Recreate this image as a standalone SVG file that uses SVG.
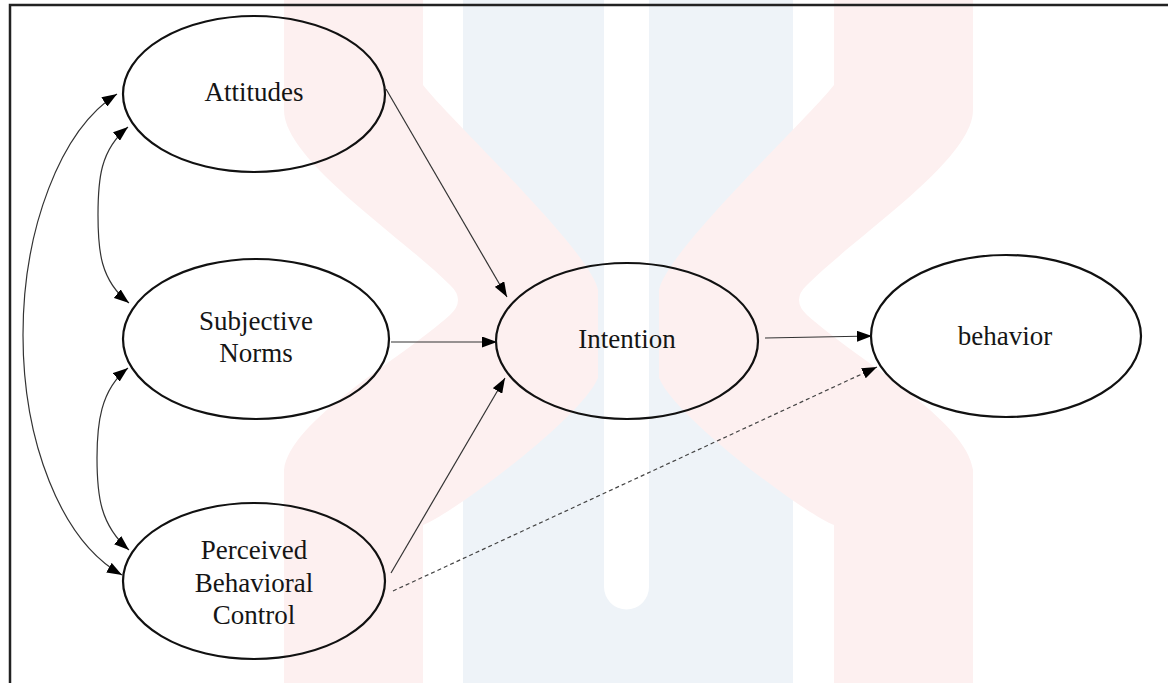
<svg xmlns="http://www.w3.org/2000/svg" width="1168" height="683" viewBox="0 0 1168 683">
  <style>
    .node { fill: none; stroke: #111; stroke-width: 2.2; }
    .label { font-family: "Liberation Serif", "Times New Roman", serif; font-size: 27px; fill: #151515; text-anchor: middle; }
    .edge { fill: none; stroke: #333; stroke-width: 1.2; }
    .dashed { stroke-dasharray: 4 3; stroke: #444; }
    .wm-pink { fill: #fdf0f0; }
    .wm-blue { fill: #eef3f8; }
  </style>
  <defs>
    <marker id="arrow" viewBox="0 0 15 11" refX="15" refY="5.5" markerWidth="15" markerHeight="11" markerUnits="userSpaceOnUse" orient="auto-start-reverse">
      <path d="M0,0 L15,5.5 L0,11 Z" fill="#000"/>
    </marker>
    <path id="pinkband" d="M284,0 V110 C284,160 400,235 450,285 Q466,300 450,315 C400,360 290,420 284,470 V683 H423 V525 C450,515 580,420 598,378 V290 C590,250 450,120 423,85 V0 Z"/>
  </defs>

  <rect x="0" y="0" width="1168" height="683" fill="#ffffff"/>

  <g id="watermark">
    <rect class="wm-blue" x="463" y="0" width="330" height="683"/>
    <path d="M604,0 H649 V587 A22.5,22.5 0 0 1 604,587 Z" fill="#ffffff"/>
    <use href="#pinkband" class="wm-pink"/>
    <use href="#pinkband" class="wm-pink" transform="translate(1257,0) scale(-1,1)"/>
  </g>

  <g id="frame">
    <path d="M10,683 V5 H1168" fill="none" stroke="#222" stroke-width="2.5"/>
  </g>

  <g id="connectors">
    <line class="edge" x1="386" y1="89" x2="507" y2="297" marker-end="url(#arrow)"/>
    <line class="edge" x1="391" y1="342" x2="497" y2="342" marker-end="url(#arrow)"/>
    <line class="edge" x1="391" y1="573" x2="505" y2="378" marker-end="url(#arrow)"/>
    <line class="edge" x1="765" y1="338" x2="872" y2="336" marker-end="url(#arrow)"/>
    <line class="edge dashed" x1="393" y1="591" x2="877" y2="367" marker-end="url(#arrow)"/>
    <path class="edge" d="M117,94 C60,130 23,230 23,335 C23,440 60,540 122,575" marker-start="url(#arrow)" marker-end="url(#arrow)"/>
    <path class="edge" d="M128,127 C100,150 98,180 98,215 C98,250 100,280 129,303" marker-start="url(#arrow)" marker-end="url(#arrow)"/>
    <path class="edge" d="M128,368 C100,390 97,425 97,458 C97,495 100,525 129,550" marker-start="url(#arrow)" marker-end="url(#arrow)"/>
  </g>

  <g id="attitudes">
    <ellipse class="node" cx="254" cy="94" rx="131" ry="78"/>
    <text class="label" x="254" y="101">Attitudes</text>
  </g>
  <g id="subjective-norms">
    <ellipse class="node" cx="256" cy="339" rx="133" ry="80"/>
    <text class="label" x="256" y="330">Subjective</text>
    <text class="label" x="256" y="362">Norms</text>
  </g>
  <g id="perceived-behavioral-control">
    <ellipse class="node" cx="254" cy="581" rx="131" ry="78"/>
    <text class="label" x="254" y="559">Perceived</text>
    <text class="label" x="254" y="592">Behavioral</text>
    <text class="label" x="254" y="624">Control</text>
  </g>
  <g id="intention">
    <ellipse class="node" cx="627" cy="341" rx="131" ry="78"/>
    <text class="label" x="627" y="348">Intention</text>
  </g>
  <g id="behavior">
    <ellipse class="node" cx="1006" cy="336" rx="135" ry="81"/>
    <text class="label" x="1005" y="345">behavior</text>
  </g>
</svg>
